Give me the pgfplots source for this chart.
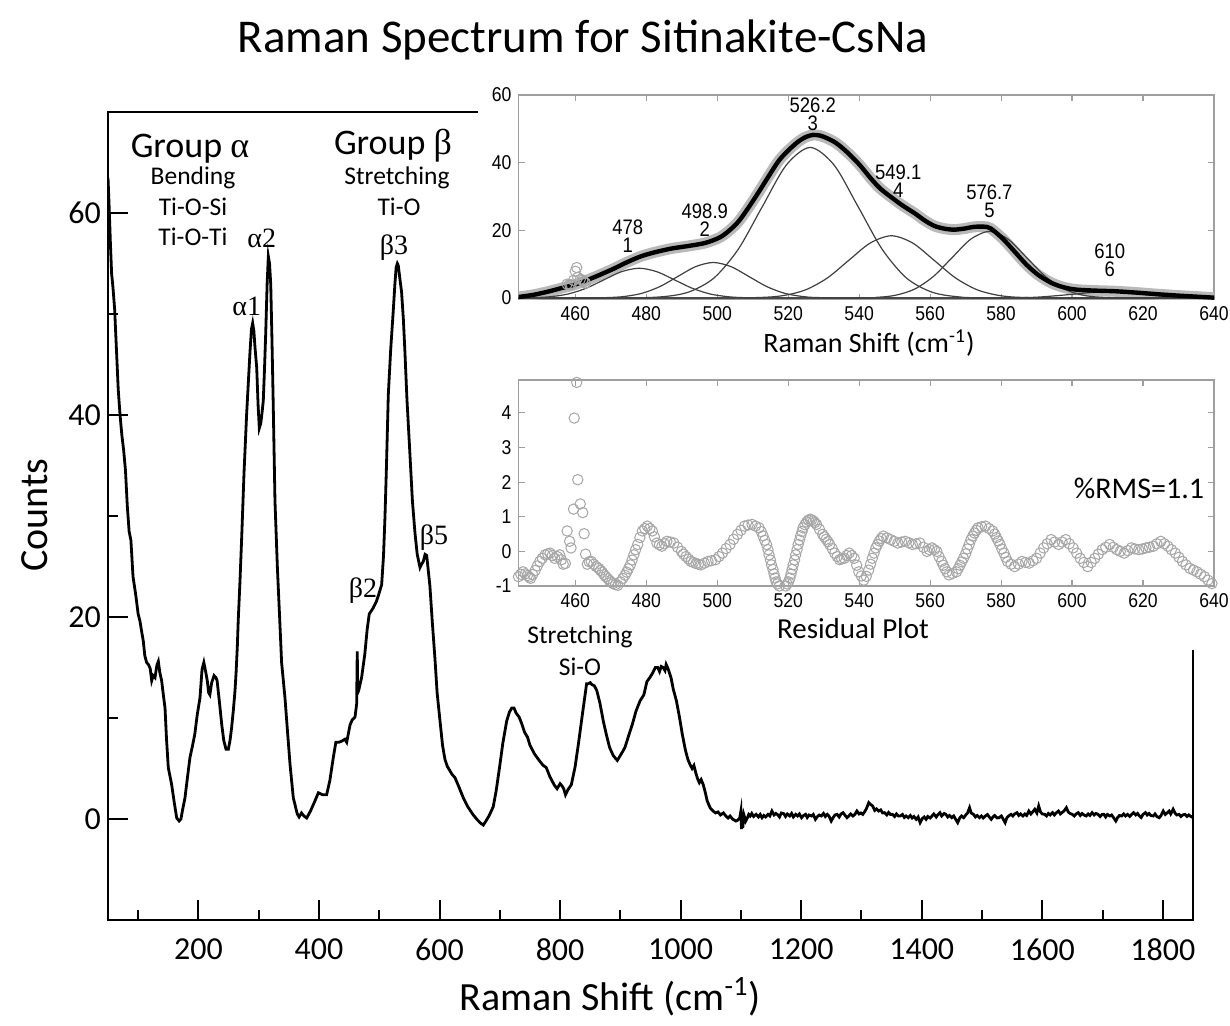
\documentclass[border=0pt]{standalone}
\usepackage{fontspec}
\usepackage{pgfplots}
\pgfplotsset{compat=1.18}
\setmainfont{Carlito}
\newfontfamily\grk{Liberation Serif}
\newfontfamily\arialn[FakeStretch=0.88]{Liberation Sans}

% Raman spectrum of sitinakite-CsNa (counts vs. Raman shift)
\pgfplotstableread{
x y
50 63.5
52 60.5
54 57
56 54
58 52.8
61 50.5
64 46.5
67 42.5
70 40
73 38
76 36.5
79 34.5
82 31
85 28.5
88 27.6
91.5 24
96 22.2
100 20.3
103 19.6
106 18.5
108.6 17.6
111 16.2
114 15.5
117 15.3
120 14.9
122.5 13.7
125 14.2
128 14
131 15.2
133.5 15.6
136 14.5
139 13.7
142 12.2
144.6 11
147 8
150 5.1
155.6 3.4
160 1.6
164 0.1
168 -0.2
171 0
174 1
177.7 2.1
182 4.2
186 6.1
190 7.2
194 8.4
198 10.3
202.6 12
206 14.8
209 15.5
212 14.6
214.7 13.7
217 12.5
219 12.3
222 13.5
226 14.2
229 14
231 13.7
235 11.5
238.6 9.4
242 7.8
245.8 6.9
249.6 6.9
252.5 7.8
255 9
258 10.8
260.7 12.7
262.5 14.5
264.5 17
266 19.6
269 23.6
272 28.2
275.6 34.2
280 40.1
285.6 46.3
288 48.5
290 49.1
292 48.3
294 46.6
296.7 44.7
299 41
301 38.7
303.5 39.2
305.5 40.2
307.6 41.4
309.6 44.5
311.6 48
314 53
316 55.7
318 55
320 52.9
322 47.5
324 41.4
327 31.5
331 24.9
335 19.6
338 15.5
343.6 12
348 8.5
352 5.4
357.4 2.1
364 0.5
367 0.2
371 0.6
375 0.3
379.6 0.1
386 0.8
393.4 1.8
399 2.6
406 2.4
412.7 2.4
418 3.8
423.8 6.1
428 7.6
433 7.6
437.5 7.7
443 7.9
446 7.6
451.5 9.3
455 9.8
459.8 10.1
462.5 11.4
463.5 16.6
464.3 12.5
465.8 12.7
468 13.3
470.7 14.0
476 16.3
480 18.8
483.4 20.3
490 20.9
495 21.5
498.4 22.1
504 23.2
507 26
509.5 29.9
512 35
515 42
519 46.5
523 50.1
526 53
528 54.6
530 55
531.6 54.8
534 53.6
537 52.2
540 49.5
542.7 46.1
546 41.5
551 36
555 31.5
559.3 28.3
563 26.2
567.6 24.9
570 25.2
573 25.5
576 26.2
578.7 26.1
581 24.8
584 23.1
588 19.5
592.5 15.8
596 12.5
600.8 9.7
605 7.3
609 5.9
613 5.2
617 4.8
621 4.4
625.6 4.1
632 3.2
639.4 2.1
647 1.2
656 0.4
663 -0.1
668 -0.4
672.6 -0.6
677 -0.2
682 0.3
689 1.2
694 2.8
700 5.3
705 7.5
711.4 9.7
716 10.6
720 11.0
723.5 11.0
727 10.5
732 10.1
736 9.5
741 8.6
746 8.1
750 7.3
758 6.4
766.6 5.7
772 5.3
777 5.1
783 4.2
790 3.4
795 3.0
800 3.5
803 3.3
806 3.0
809 2.4
813 2.9
818.7 3.4
825 5.2
831 7.7
838 10.8
844 13.4
847 13.4
850 13.5
853 13.3
856.7 13.2
861 12.7
866 11.5
872 9.6
877 8.3
882 7.1
888 6.3
892 6.0
895 5.8
900 6.3
904 6.7
907.7 7.1
914 8.3
920 9.4
926 10.7
932.7 11.7
939 12.3
944 13.6
948.8 14.0
953 14.4
958 15.0
962 15.0
965 14.6
967.9 15.1
971 15.0
974 14.7
976 15.3
979 14.9
984 14.0
988 12.8
993 11.7
998 10.1
1002.7 8.4
1008 6.8
1012 5.9
1015.5 5.4
1019 5.0
1022 5.3
1025 4.6
1028 4.0
1031 3.6
1034 3.9
1037.5 3.4
1041 2.6
1044 1.8
1049 1.1
1053.6 0.8
1058 0.6
1062 0.7
1066 0.4
1071 0.6
1075 0.3
1078.6 0.1
1082 0.3
1086 0.0
1091.6 -0.2
1095 -0.1
1098 0.1
1100 0.8
1101 -1.0
1102 0.7
1103 -0.9
1105 0.4
1108 -0.2
1110.6 0.1
1113 0.45
1115.4 0.3
1118 0.55
1121 0.25
1125.2 0.46
1129 0.2
1132 0.45
1135 0.13
1138 0.35
1141 0.2
1144.9 0.46
1148 0.3
1151.4 0.79
1155 0.4
1158 0.55
1161.3 0.40
1164 0.2
1167 0.6
1171.1 0.53
1174 0.25
1177 0.5
1181 0.30
1184 0.55
1187 0.2
1190.8 0.46
1194 0.3
1197 0.5
1200.6 0.13
1204 0.35
1207.2 0.46
1210 0.15
1213 0.4
1217 0.30
1220 0.45
1223.6 -0.03
1227 0.25
1230 0.4
1233.4 0.30
1237 0.55
1240 0.25
1243.2 0.46
1246 0.3
1249.8 -0.2
1253 0.15
1256 0.4
1259.6 0.46
1263 0.2
1266 0.5
1269.5 0.63
1273 0.35
1276 0.13
1279 0.3
1282 0.5
1285.8 0.30
1289 0.45
1292.4 0.79
1296 0.5
1299 0.6
1302.2 0.46
1305 0.7
1308 1.0
1312.1 1.62
1315 1.45
1318.6 1.29
1322 0.85
1325 1.0
1328.5 0.79
1332 0.9
1335 0.6
1338.3 0.63
1342 0.4
1345 0.65
1348 0.45
1351.4 0.46
1355 0.25
1358 0.5
1361 0.3
1364.5 0.30
1368 0.45
1371 0.15
1374 0.3
1377.6 0.13
1381 0.35
1384 0.1
1387 0.25
1390.8 -0.03
1394 0.2
1397.3 -0.36
1401 0.05
1404 0.2
1407.2 -0.03
1410 0.25
1414 0.1
1417 0.30
1420 0.5
1424 0.2
1427 0.45
1430.1 0.63
1433 0.3
1437 0.55
1440 0.46
1443 0.2
1446 0.35
1449.8 0.13
1453 0.3
1456 0.0
1459.6 -0.36
1463 0.1
1466 0.3
1469.5 0.13
1473 0.4
1476 0.6
1479.3 1.12
1482 0.6
1485.8 0.46
1489 0.2
1492 0.35
1495.7 0.13
1499 0.3
1502 0.1
1505.5 0.30
1509 0.45
1512 0.2
1515.3 -0.03
1518 0.2
1521 0.35
1525 0.1
1528.4 0.13
1532 0.3
1535 0.0
1538.3 -0.36
1541 0.1
1544 0.3
1548.1 0.46
1551 0.3
1554 0.5
1558 0.63
1561 0.35
1564 0.5
1567.8 0.30
1571 0.5
1574 0.35
1577.6 0.79
1581 0.5
1584 0.7
1587.5 0.96
1591 0.6
1594 1.29
1597 0.7
1600 0.5
1603.9 0.46
1607 0.3
1610 0.55
1613 0.4
1617 0.63
1620 0.4
1623 0.6
1626.8 0.79
1630 0.5
1633 0.65
1636 0.8
1639.9 1.12
1643 0.7
1646 0.55
1649.8 0.46
1653 0.3
1656 0.5
1659.6 0.63
1663 0.35
1666 0.55
1669 0.4
1672.7 0.30
1676 0.5
1679 0.35
1682.6 0.63
1686 0.4
1689 0.55
1692.4 0.46
1696 0.25
1699 0.45
1702.2 0.46
1705 0.2
1708 0.45
1712.1 0.30
1715 0.4
1718 0.15
1721.9 -0.2
1725 0.15
1728 0.35
1731.7 0.30
1735 0.5
1738 0.3
1741.5 0.46
1745 0.25
1748 0.45
1751.4 0.63
1755 0.4
1758 0.55
1761.2 0.30
1764 0.15
1767 0.45
1771.1 0.63
1774 0.4
1777 0.55
1780 0.35
1784.1 0.30
1787 0.5
1790 0.25
1794 0.13
1797 0.35
1800.6 0.79
1804 0.45
1807 0.6
1810.4 0.79
1813 0.5
1817 0.96
1820 0.6
1823 0.4
1826.8 0.46
1830 0.25
1833 0.4
1836.6 0.46
1840 0.25
1843 0.4
1845.2 0.30
1848 0.2
1850 0.3
}\spectrum

% Fitted envelope over 444-640 cm^-1
\pgfplotstableread{
x y
443.3 0.2
448 0.9
452 1.8
456 2.9
460 4.0
465 6.0
470.7 8.6
474 10.3
478.2 12.2
482 13.4
487 14.6
492 15.4
496.7 16.3
500.9 18.0
504 20.5
506.3 23.0
509 27.0
511.8 31.5
514.5 36.0
517.3 40.5
520 43.6
522.8 46.2
525 47.6
527 48.2
529 48.0
531 47.2
533.5 45.8
536.5 43.2
540 39.5
543.4 35.2
546 32.3
548.9 29.9
552 27.5
555.7 25.0
558.5 22.9
561.2 21.3
564 20.5
566.7 20.2
569.5 20.5
572.2 21.0
575 21.1
577 20.6
580.4 17.6
584 13.5
587.2 9.8
590.5 6.8
594.1 4.5
597.5 3.2
601 2.5
606 2.2
612 2.0
618 1.6
624.3 1.1
630 0.7
635 0.4
640 0.1
}\fitsum

% Outlying measured points near 460 cm^-1
\pgfplotstableread{
x y
457.7 4.1
458.4 4.0
458.8 3.9
459.5 5.2
460.0 7.9
460.4 9.0
460.7 6.1
461.4 5.5
462.1 5.3
462.5 4.8
462.9 4.4
}\outliers

% Fit residuals
\pgfplotstableread{
x r
444 -0.73
444.65 -0.66
445.3 -0.59
445.9 -0.65
446.5 -0.70
447 -0.74
447.4 -0.78
448 -0.67
448.7 -0.55
449.3 -0.42
450 -0.29
450.7 -0.20
451.5 -0.10
452.2 -0.07
452.9 -0.05
453.5 -0.12
454.2 -0.20
454.9 -0.15
455.6 -0.10
456.1 -0.24
456.6 -0.37
457.2 -0.35
457.7 0.59
458.4 0.29
458.8 0.10
459.5 1.22
459.7 3.85
460.4 4.88
460.7 2.07
461.4 1.37
462.1 1.12
462.5 0.51
462.9 -0.08
463.4 -0.37
463.9 -0.30
464.5 -0.29
465.2 -0.37
465.9 -0.44
466.6 -0.49
467.1 -0.55
467.6 -0.60
468.1 -0.67
468.6 -0.73
469.2 -0.79
469.7 -0.85
470.2 -0.89
470.7 -0.93
471.3 -0.96
472 -0.98
472.7 -0.88
473.4 -0.78
474 -0.69
474.5 -0.60
475 -0.50
475.5 -0.39
476 -0.25
476.5 -0.10
477 0.05
477.6 0.20
478.2 0.40
478.9 0.59
479.6 0.66
480.3 0.73
481 0.66
481.7 0.59
482.3 0.42
483 0.24
483.7 0.19
484.4 0.15
485.1 0.22
485.8 0.29
486.8 0.27
487.8 0.24
488.8 0.12
489.9 0.00
490.5 -0.08
491.2 -0.15
491.9 -0.22
492.6 -0.29
493.3 -0.32
494 -0.35
494.7 -0.37
495.4 -0.39
496.4 -0.34
497.4 -0.29
498.4 -0.27
499.5 -0.24
500.5 -0.15
501.5 -0.05
502.5 0.08
503.6 0.20
504.6 0.35
505.7 0.49
506.7 0.61
507.7 0.73
508.7 0.76
509.8 0.78
510.8 0.73
511.8 0.68
512.4 0.57
512.9 0.45
513.4 0.32
513.9 0.20
514.3 0.05
514.6 -0.10
515 -0.25
515.3 -0.39
515.7 -0.52
516 -0.65
516.3 -0.77
516.6 -0.88
517 -0.94
517.5 -1.00
518 -1.04
518.4 -1.07
518.8 -1.04
519.3 -1.00
519.7 -0.94
520.1 -0.88
520.5 -0.77
520.8 -0.65
521.1 -0.52
521.4 -0.39
521.8 -0.25
522.1 -0.10
522.5 0.05
522.8 0.20
523.2 0.33
523.5 0.45
523.9 0.57
524.2 0.68
524.7 0.77
525.2 0.85
525.7 0.90
526.2 0.93
526.6 0.91
527.1 0.88
527.5 0.83
528 0.78
528.8 0.64
529.7 0.49
530.2 0.42
530.7 0.35
531.2 0.28
531.7 0.20
532.4 0.08
533.1 -0.05
533.8 -0.15
534.5 -0.24
535.1 -0.22
535.8 -0.20
536.5 -0.12
537.2 -0.05
537.9 -0.12
538.6 -0.20
539.3 -0.40
539.9 -0.59
540.6 -0.71
541.3 -0.83
542 -0.72
542.7 -0.54
543.2 -0.37
543.7 -0.20
544.2 -0.05
544.7 0.10
545.2 0.20
545.7 0.30
546.2 0.37
546.8 0.44
547.8 0.39
548.9 0.34
549.9 0.29
550.9 0.24
552 0.27
553 0.29
554 0.25
555 0.20
556 0.22
557.1 0.24
558.1 0.12
559.1 0.00
559.8 0.05
560.5 0.10
561.2 0.05
561.9 0.00
562.5 -0.15
563.2 -0.29
563.7 -0.40
564.2 -0.50
564.7 -0.59
565.3 -0.68
566.3 -0.64
567.4 -0.59
567.9 -0.50
568.4 -0.40
568.9 -0.30
569.4 -0.20
570 -0.07
570.5 0.07
571 0.20
571.5 0.34
572 0.44
572.5 0.53
573 0.61
573.5 0.68
574.5 0.71
575.6 0.73
576.6 0.66
577.6 0.59
578.2 0.50
578.7 0.40
579.2 0.30
579.7 0.20
580.2 0.07
580.8 -0.05
581.3 -0.17
581.8 -0.29
582.8 -0.37
583.8 -0.44
584.9 -0.37
585.9 -0.29
586.9 -0.32
587.9 -0.34
589 -0.27
590 -0.20
591 -0.05
592 0.10
593 0.22
594.1 0.34
595.1 0.27
596.2 0.20
597.2 0.27
598.2 0.34
599.2 0.22
600.3 0.10
601.3 -0.05
602.3 -0.20
603.3 -0.32
604.4 -0.44
605.4 -0.32
606.4 -0.20
607.4 -0.08
608.5 0.05
609.5 0.12
610.6 0.20
611.6 0.12
612.6 0.05
613.6 0.00
614.7 -0.05
615.7 0.02
616.7 0.10
617.7 0.07
618.8 0.05
619.8 0.07
620.8 0.10
621.8 0.12
622.9 0.15
623.9 0.22
625 0.29
626 0.22
627 0.15
628 0.05
629.1 -0.05
630.1 -0.17
631.1 -0.29
632.1 -0.39
633.2 -0.49
634.2 -0.54
635.2 -0.59
636.2 -0.66
637.3 -0.73
638.3 -0.83
639.4 -0.93
}\residuals

\begin{document}
\begin{tikzpicture}
\useasboundingbox (0pt,0pt) rectangle (615pt,-513pt);

% ---------------- main spectrum ----------------
\begin{axis}[
  at={(54pt,-460pt)}, anchor=south west,
  scale only axis, width=542.5pt, height=404pt,
  xmin=50, xmax=1850, ymin=-10, ymax=70,
  xtick={200,400,...,1800}, minor xtick={100,300,...,1700},
  ytick={0,20,40,60}, minor ytick={10,30,50},
  tick align=inside, xtick pos=bottom, ytick pos=left,
  major tick length=10pt, minor tick length=5pt,
  major tick style={black, line width=1pt},
  minor tick style={black, line width=1pt},
  axis line style={line width=1pt},
  tick label style={font=\fontsize{16}{19}\selectfont},
  xticklabel style={yshift=-6pt},
  /pgf/number format/assume math mode=true,
  /pgf/number format/1000 sep={},
]
\addplot[black, line width=1.4pt] table[x=x, y=y] {\spectrum};
\end{axis}

% blank panel behind the fit insets
\fill[white] (239pt,-42.5pt) rectangle (615pt,-325pt);

% ---------------- band fit ----------------
\begin{axis}[
  at={(259.25pt,-149.85pt)}, anchor=south west,
  scale only axis, width=347.75pt, height=102.35pt,
  xmin=444, xmax=640, ymin=-0.5, ymax=60,
  xtick={460,480,...,640}, ytick={0,20,40,60},
  tick align=inside, major tick length=3pt,
  axis line style={gray!75, line width=0.6pt},
  major tick style={gray!75, line width=0.6pt},
  tick label style={font=\arialn\fontsize{10}{12}\selectfont},
  /pgf/number format/assume math mode=true,
  axis background/.style={fill=white},
]
\addplot[gray!55, line width=5.5pt, smooth] table[x=x, y=y] {\fitsum};
\addplot[only marks, mark=o, mark size=2.6pt, gray!70, mark options={line width=0.5pt}] table[x=x, y=y] {\outliers};
% component bands
\addplot[black!75, line width=0.6pt, smooth] coordinates {
 (444,0.02) (448,0.098) (453,0.386) (458,1.19) (463,2.86) (468,5.34) (473,7.77) (478,8.8)
 (483,7.77) (488,5.34) (493,2.86) (498,1.19) (503,0.386) (508,0.098) (520,0) (640,0)};
\addplot[black!75, line width=0.6pt, smooth] coordinates {
 (444,0) (460,0.005) (468.9,0.117) (473.9,0.461) (478.9,1.42) (483.9,3.41) (488.9,6.37) (493.9,9.27) (498.9,10.5)
 (503.9,9.27) (508.9,6.37) (513.9,3.41) (518.9,1.42) (523.9,0.461) (528.9,0.117) (545,0) (640,0)};
\addplot[black!75, line width=0.6pt, smooth] coordinates {
 (444,0) (475,0.02) (485.7,0.49) (492.45,1.95) (499.2,6.02) (505.95,14.45) (512.7,26.99) (519.45,39.27) (526.2,44.5)
 (532.95,39.27) (539.7,26.99) (546.45,14.45) (553.2,6.02) (559.95,1.95) (566.7,0.49) (578,0.02) (640,0)};
\addplot[black!75, line width=0.6pt, smooth] coordinates {
 (444,0) (500,0.01) (513.1,0.204) (519.1,0.81) (525.1,2.49) (531.1,5.97) (537.1,11.16) (543.1,16.24) (549.1,18.4)
 (555.1,16.24) (561.1,11.16) (567.1,5.97) (573.1,2.49) (579.1,0.81) (585.1,0.204) (598,0.01) (640,0)};
\addplot[black!75, line width=0.6pt, smooth] coordinates {
 (444,0) (535,0.01) (545.2,0.219) (550.45,0.865) (555.7,2.67) (560.95,6.40) (566.2,11.95) (571.45,17.39) (576.7,19.7)
 (581.95,17.39) (587.2,11.95) (592.45,6.40) (597.7,2.67) (602.95,0.865) (608.2,0.219) (618,0.01) (640,0)};
\addplot[black!75, line width=0.6pt, smooth] coordinates {
 (444,0) (570,0) (580,0.02) (590,0.24) (600,1.09) (605,1.59) (610,1.8) (615,1.59) (620,1.09) (630,0.24) (640,0.02)};
% fitted envelope
\addplot[black, line width=2.2pt, smooth] table[x=x, y=y] {\fitsum};
% band positions
\begin{scope}[every node/.style={font=\arialn\fontsize{10.5}{9}\selectfont, align=center}]
\node at (axis cs:474.8,18.2) {478\\1};
\node at (axis cs:496.5,23.1) {498.9\\2};
\node at (axis cs:526.9,54.3) {526.2\\3};
\node at (axis cs:551.0,34.4) {549.1\\4};
\node at (axis cs:576.7,28.5) {576.7\\5};
\node at (axis cs:610.6,11.1) {610\\6};
\end{scope}
\end{axis}

% ---------------- residuals ----------------
\begin{axis}[
  at={(259.25pt,-293pt)}, anchor=south west,
  scale only axis, width=347.75pt, height=103pt,
  xmin=444, xmax=640, ymin=-1, ymax=4.95,
  xtick={460,480,...,640}, ytick={-1,0,...,4},
  tick align=inside, major tick length=3pt,
  axis line style={gray!75, line width=0.6pt},
  major tick style={gray!75, line width=0.6pt},
  tick label style={font=\arialn\fontsize{10}{12}\selectfont},
  /pgf/number format/assume math mode=true,
  axis background/.style={fill=white},
]
\addplot[only marks, mark=o, mark size=2.6pt, gray!70, mark options={line width=0.5pt}] table[x=x, y=r] {\residuals};
\end{axis}

% ---------------- text ----------------
\node[font=\fontsize{23.5}{27}\selectfont] at (291.5pt,-20pt) {Raman Spectrum for Sitinakite-CsNa};
\node[font=\fontsize{20}{24}\selectfont] at (305pt,-498.5pt) {Raman Shift (cm\textsuperscript{-1})};
\node[font=\fontsize{20}{24}\selectfont, rotate=90] at (17.5pt,-257.5pt) {Counts};

\node[font=\fontsize{18}{21}\selectfont] at (95pt,-74.5pt) {Group {\grk α}};
\node[font=\fontsize{12.75}{15}\selectfont] at (96.5pt,-88.75pt) {Bending};
\node[font=\fontsize{12.75}{15}\selectfont] at (96.5pt,-103.35pt) {Ti-O-Si};
\node[font=\fontsize{12.75}{15}\selectfont] at (96.5pt,-118.35pt) {Ti-O-Ti};
\node[font=\grk\fontsize{14}{16}\selectfont] at (130.85pt,-119pt) {α2};
\node[font=\grk\fontsize{14}{16}\selectfont] at (123.35pt,-153.35pt) {α1};

\node[font=\fontsize{18}{21}\selectfont] at (196.5pt,-73pt) {Group {\grk β}};
\node[font=\fontsize{12.75}{15}\selectfont] at (198.5pt,-88.75pt) {Stretching};
\node[font=\fontsize{12.75}{15}\selectfont] at (199.5pt,-103.35pt) {Ti-O};
\node[font=\grk\fontsize{14}{16}\selectfont] at (197pt,-124pt) {β3};
\node[font=\grk\fontsize{14}{16}\selectfont] at (181.5pt,-295.5pt) {β2};
\node[font=\grk\fontsize{14}{16}\selectfont] at (217pt,-268.75pt) {β5};

\node[font=\fontsize{12.75}{15}\selectfont] at (290pt,-318.5pt) {Stretching};
\node[font=\fontsize{12.75}{15}\selectfont] at (290pt,-333.5pt) {Si-O};

\node[font=\fontsize{14}{17}\selectfont] at (434.5pt,-171.5pt) {Raman Shift (cm\textsuperscript{-1})};
\node[font=\fontsize{14.5}{17}\selectfont] at (426.5pt,-314.5pt) {Residual Plot};
\node[font=\fontsize{15}{18}\selectfont] at (569.5pt,-244pt) {\%RMS=1.1};
\end{tikzpicture}
\end{document}
